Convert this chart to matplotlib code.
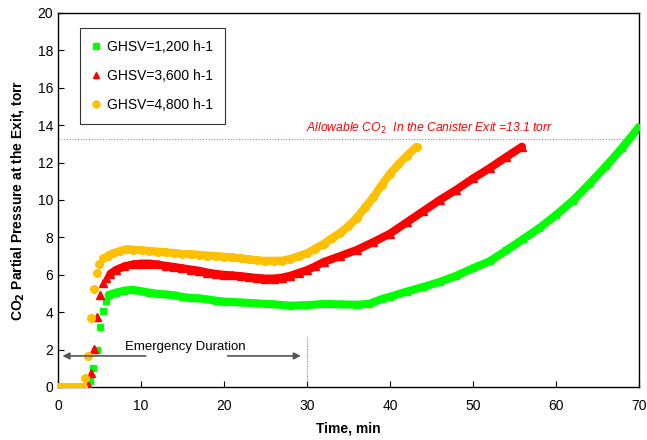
import numpy as np
import matplotlib
matplotlib.use("Agg")
import matplotlib.pyplot as plt
from matplotlib.lines import Line2D

plt.rcParams["font.family"] = ["Liberation Sans", "DejaVu Sans"]

# GHSV = 1,200 h-1
t_1200 = [0, 0.5, 1, 1.5, 2, 2.5, 3, 3.5, 3.9, 4.25, 4.65, 5.05, 5.4, 5.75, 6.1,
          7, 8, 9, 10, 11, 12, 13, 14, 15, 16, 17, 18, 19, 20, 22, 24, 26, 28, 30,
          32, 34, 36, 37.5, 39, 40, 42, 44, 46, 48, 50, 52, 54, 56, 58, 60, 62, 64,
          66, 68, 70]
p_1200 = [0, 0, 0, 0, 0, 0, 0, 0, 0.3, 1.0, 2.0, 3.22, 4.08, 4.6, 4.92,
          5.05, 5.15, 5.2, 5.12, 5.05, 4.98, 4.95, 4.9, 4.82, 4.76, 4.74, 4.68, 4.62,
          4.57, 4.52, 4.47, 4.42, 4.35, 4.38, 4.44, 4.42, 4.4, 4.45, 4.7, 4.83, 5.1,
          5.35, 5.62, 5.95, 6.35, 6.72, 7.3, 7.9, 8.5, 9.2, 9.95, 10.85, 11.8, 12.8,
          13.9]

# GHSV = 3,600 h-1
t_3600 = [0, 0.5, 1, 1.5, 2, 2.5, 3, 3.65, 3.98, 4.34, 4.74, 5.06, 5.38, 5.78, 6.3,
          7, 8, 9, 10, 11, 12, 13, 14, 15, 16, 17, 18, 19, 20, 21, 22, 23, 24, 25,
          26, 27, 28, 29, 30, 31, 32, 34, 36, 38, 40, 42, 44, 46, 48, 50, 52, 54, 55.9]
p_3600 = [0, 0, 0, 0, 0, 0, 0, 0.08, 0.77, 2.03, 3.73, 4.92, 5.54, 5.81, 6.05,
          6.26, 6.45, 6.55, 6.6, 6.6, 6.55, 6.48, 6.42, 6.35, 6.28, 6.22, 6.12, 6.05,
          6.0, 5.97, 5.93, 5.88, 5.83, 5.8, 5.8, 5.85, 5.95, 6.1, 6.25, 6.45, 6.68,
          7.0, 7.33, 7.75, 8.2, 8.8, 9.4, 10.0, 10.55, 11.15, 11.7, 12.3, 12.85]

# GHSV = 4,800 h-1
t_4800 = [0, 0.5, 1, 1.5, 2, 2.5, 3, 3.25, 3.65, 3.94, 4.3, 4.66, 4.98, 5.46, 6,
          6.67, 7.5, 8.27, 9, 10, 11, 12, 13, 14, 15, 16, 17, 18, 19, 20, 21, 22, 23,
          24, 25, 26, 27, 28, 29, 30, 31, 32, 33, 34, 35, 36, 37, 38, 39, 40, 41, 42,
          43.2]
p_4800 = [0, 0, 0, 0, 0, 0, 0, 0.5, 1.68, 3.69, 5.26, 6.11, 6.56, 6.88, 7.02,
          7.15, 7.28, 7.36, 7.35, 7.32, 7.28, 7.24, 7.2, 7.16, 7.12, 7.1, 7.07, 7.03,
          7.0, 6.97, 6.93, 6.88, 6.82, 6.77, 6.75, 6.75, 6.76, 6.85, 7.0, 7.15, 7.4,
          7.65, 7.95, 8.25, 8.6, 9.05, 9.6, 10.15, 10.8, 11.4, 11.9, 12.35, 12.85]

labels = ["GHSV=1,200 h-1", "GHSV=3,600 h-1", "GHSV=4,800 h-1"]
LIMIT = 13.25

fig = plt.figure(figsize=(6.47, 4.4), dpi=100)
ax = fig.add_axes([0.0896, 0.1205, 0.8980, 0.8500])

# (time, value, colour, marker, size, index where the dense plateau starts)
series = [
    (t_1200, p_1200, "#00ff00", "s", 5.0, 14),
    (t_3600, p_3600, "#ff0000", "^", 5.5, 14),
    (t_4800, p_4800, "#ffc000", "o", 5.5, 14),
]
for t, p, c, m, ms, start in series:
    t = np.array(t)
    p = np.array(p)
    # dense part drawn as a thick band, like the overlapping markers
    ax.plot(t[start:], p[start:], color=c, lw=5.8, solid_capstyle="round", zorder=2)
    ax.plot(t, p, ls="none", marker=m, ms=ms, color=c, mec=c, zorder=3)

ax.axhline(LIMIT, color="#ff6666", lw=0.8, ls=(0, (1, 1.5)), zorder=1)
ax.text(44.8, LIMIT + 0.6, "Allowable CO$_2$  In the Canister Exit =13.1 torr",
        color="#ff0000", style="italic", fontsize=8.7, ha="center", va="center")

# emergency duration marker
ax.plot([30, 30], [0.2, 2.7], color="#ff3333", lw=0.6, ls=(0, (1, 1)))
ax.annotate("", xy=(0.2, 1.66), xytext=(10.9, 1.66),
            arrowprops=dict(arrowstyle="-|>", color="#555555", lw=1.2, mutation_scale=10))
ax.annotate("", xy=(29.6, 1.66), xytext=(20.1, 1.66),
            arrowprops=dict(arrowstyle="-|>", color="#555555", lw=1.2, mutation_scale=10))
ax.text(15.4, 2.15, "Emergency Duration", fontsize=9.5, ha="center", va="center")

ax.set_xlim(0, 70)
ax.set_ylim(0, 20)
ax.set_xticks(range(0, 71, 10))
ax.set_yticks(range(0, 21, 2))
ax.tick_params(direction="in", length=4, labelsize=10, width=0.8)
ax.tick_params(axis="x", pad=9)
for s in ax.spines.values():
    s.set_linewidth(1.0)
ax.set_xlabel("Time, min", fontsize=10, fontweight="bold", labelpad=6)
ax.set_ylabel("CO$_\\mathbf{2}$ Partial Pressure at the Exit, torr", fontsize=10,
              fontweight="bold", labelpad=8)

handles = [Line2D([], [], ls="none", marker=m, ms=5, color=c) for _, _, c, m, _, _ in series]
leg = ax.legend(handles, labels, loc="upper left", bbox_to_anchor=(0.038, 0.96),
                fontsize=10, frameon=True, fancybox=False, edgecolor="black",
                handlelength=0.6, handletextpad=0.5, labelspacing=1.1,
                borderpad=0.85, borderaxespad=0)
leg.get_frame().set_linewidth(0.8)

fig.savefig("out.png", dpi=100)
